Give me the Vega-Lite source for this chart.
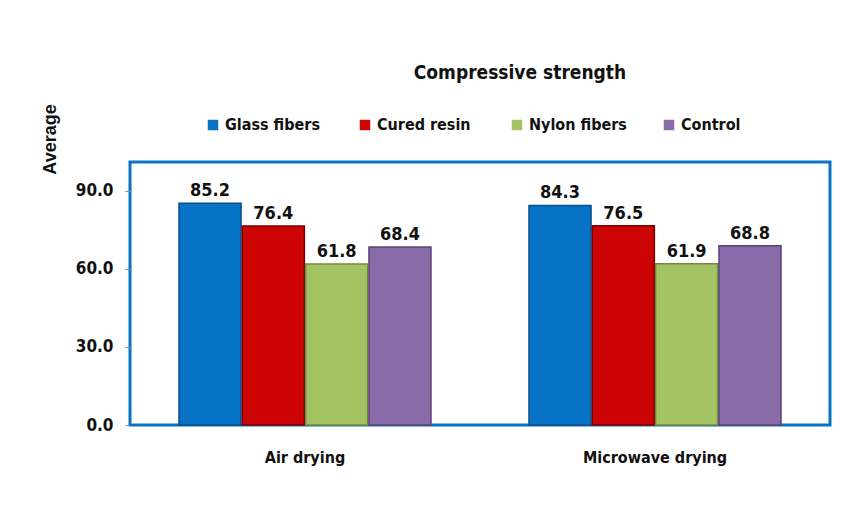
{
  "$schema": "https://vega.github.io/schema/vega-lite/v6.json",
  "width": 700,
  "height": 263,
  "autosize": {"type": "none"},
  "padding": {"left": 130, "top": 162, "right": 31, "bottom": 102},
  "background": "white",
  "config": {
    "view": {"stroke": "#0a72c2", "strokeWidth": 3},
    "font": "Liberation Sans Narrow, DejaVu Sans Condensed, Liberation Sans, sans-serif"
  },
  "title": {
    "text": "Compressive strength",
    "anchor": "middle",
    "frame": "group",
    "fontSize": 19,
    "fontWeight": "bold",
    "color": "#111111",
    "dx": 40,
    "offset": 21
  },
  "data": {
    "values": [
      {"method": "Air drying", "material": "Glass fibers", "value": 85.2},
      {"method": "Air drying", "material": "Cured resin", "value": 76.4},
      {"method": "Air drying", "material": "Nylon fibers", "value": 61.8},
      {"method": "Air drying", "material": "Control", "value": 68.4},
      {"method": "Microwave drying", "material": "Glass fibers", "value": 84.3},
      {"method": "Microwave drying", "material": "Cured resin", "value": 76.5},
      {"method": "Microwave drying", "material": "Nylon fibers", "value": 61.9},
      {"method": "Microwave drying", "material": "Control", "value": 68.8}
    ]
  },
  "encoding": {
    "x": {
      "field": "method",
      "type": "nominal",
      "sort": ["Air drying", "Microwave drying"],
      "scale": {"paddingInner": 0.28, "paddingOuter": 0.14},
      "axis": {
        "title": null,
        "domain": false,
        "ticks": false,
        "labelAngle": 0,
        "labelFontSize": 16,
        "labelFontWeight": "bold",
        "labelColor": "#111111",
        "labelPadding": 24
      }
    },
    "xOffset": {
      "field": "material",
      "sort": ["Glass fibers", "Cured resin", "Nylon fibers", "Control"],
      "scale": {"paddingInner": 0.02}
    },
    "y": {
      "field": "value",
      "type": "quantitative",
      "scale": {"domain": [0, 101], "nice": false},
      "axis": {
        "title": "Average",
        "titleFont": "Liberation Sans, sans-serif",
        "titleFontSize": 18,
        "titleFontWeight": "bold",
        "titleColor": "#111111",
        "titleX": -80,
        "titleY": -23,
        "titleAngle": -90,
        "titleAlign": "center",
        "titleBaseline": "middle",
        "values": [0, 30, 60, 90],
        "format": ".1f",
        "grid": false,
        "domain": false,
        "tickColor": "#8c8c8c",
        "tickSize": 5,
        "labelFontSize": 17,
        "labelFontWeight": "bold",
        "labelColor": "#111111",
        "labelPadding": 12
      }
    }
  },
  "layer": [
    {
      "mark": {"type": "bar", "strokeWidth": 1.5},
      "encoding": {
        "color": {
          "field": "material",
          "type": "nominal",
          "sort": ["Glass fibers", "Cured resin", "Nylon fibers", "Control"],
          "scale": {
            "domain": ["Glass fibers", "Cured resin", "Nylon fibers", "Control"],
            "range": ["#0673c7", "#cc0404", "#a4c463", "#8a6ba9"]
          },
          "legend": {
            "title": null,
            "orient": "none",
            "legendX": 75,
            "legendY": -45,
            "direction": "horizontal",
            "columns": 4,
            "gridAlign": "all",
            "columnPadding": 34,
            "symbolType": "square",
            "symbolSize": 110,
            "symbolStrokeWidth": 0,
            "labelFontSize": 16,
            "labelFontWeight": "bold",
            "labelColor": "#111111",
            "labelOffset": 4
          }
        },
        "stroke": {
          "field": "material",
          "type": "nominal",
          "scale": {
            "domain": ["Glass fibers", "Cured resin", "Nylon fibers", "Control"],
            "range": ["#0b4f86", "#7a0000", "#6f8a3c", "#5a4470"]
          },
          "legend": null
        }
      }
    },
    {
      "mark": {
        "type": "text",
        "baseline": "bottom",
        "dy": -3,
        "fontSize": 18,
        "fontWeight": "bold",
        "color": "#111111"
      },
      "encoding": {
        "text": {"field": "value", "type": "quantitative", "format": ".1f"}
      }
    }
  ]
}
